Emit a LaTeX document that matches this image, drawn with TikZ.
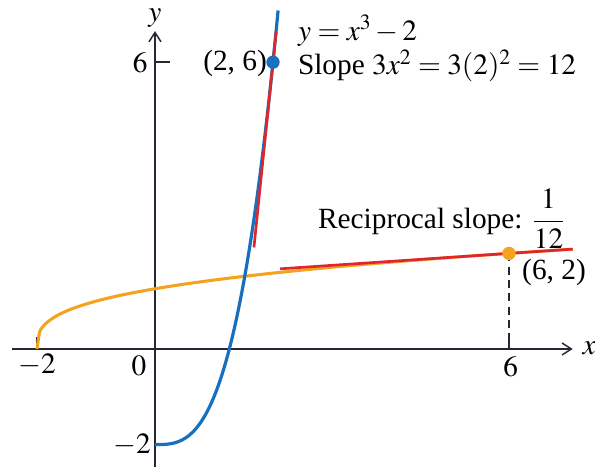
\documentclass[tikz,border=0pt]{standalone}
\usepackage{mathptmx}
\usepackage[no-math]{fontspec}
\setmainfont{Liberation Serif}
\usetikzlibrary{arrows.meta}
\definecolor{cblue}{RGB}{22,112,190}
\definecolor{corange}{RGB}{243,163,32}
\definecolor{cred}{RGB}{222,38,44}
\definecolor{caxis}{RGB}{35,40,50}
\begin{document}
\begin{tikzpicture}[x=44.25pt,y=35.85pt,
  lbl/.style={inner sep=0pt, font=\fontsize{22}{26}\selectfont},
  axisline/.style={draw=caxis, line width=1.1pt, -{Straight Barb[length=7pt,width=9pt]}},
  tickline/.style={draw=caxis, line width=1.1pt},
  curveblue/.style={draw=cblue, line width=2.4pt},
  curveorange/.style={draw=corange, line width=2.3pt},
  tangent/.style={draw=cred, line width=2pt},
  dot/.style={circle, inner sep=0pt, minimum size=10pt}]
\useasboundingbox (-2.627,-2.448) rectangle (7.458,7.301);
% axes
\coordinate (xs) at (-2.42,0);
\coordinate (xe) at (7.08,0);
\coordinate (ys) at (0,-2.46);
\coordinate (ye) at (0,6.65);
\draw[axisline] (xs) -- (xe);
\draw[axisline] (ys) -- (ye);
\node[lbl] (xl) at (7.36,0.02) {$x$};
\node[lbl] (yl) at (0,6.92) {$y$};
% ticks
\coordinate (t6a) at (0,6); \coordinate (t6b) at (0.26,6);
\coordinate (tm2a) at (0,-2); \coordinate (tm2b) at (0.26,-2);
\coordinate (tx2a) at (-2,0); \coordinate (tx2b) at (-2,0.26);
\coordinate (tx6a) at (6,0); \coordinate (tx6b) at (6,0.26);
\draw[tickline] (t6a) -- (t6b);
\draw[tickline] (tm2a) -- (tm2b);
\draw[tickline] (tx2a) -- (tx2b);
\draw[tickline] (tx6a) -- (tx6b);
\node[lbl] (ly6) at (-0.25,5.98) {$6$};
\node[lbl] (lym2) at (-0.39,-2.0) {$-2$};
\node[lbl] (lxm2) at (-2,-0.33) {$-2$};
\node[lbl] (lx0) at (-0.27,-0.35) {$0$};
\node[lbl] (lx6) at (6.03,-0.38) {$6$};
% curves
\draw[curveorange] plot[domain=-2:7.08, samples=200, smooth] ({\x},{sign(\x+2)*abs(\x+2)^(1/3)});
\draw[curveblue] plot[domain=0:2.087, samples=120, smooth] ({\x},{\x*\x*\x-2});
% points
\coordinate (P) at (2,6);
\coordinate (Q) at (6,2);
\coordinate (Qx) at (6,0);
\draw[caxis, line width=1pt, dash pattern=on 6pt off 4pt] (Q) -- (Qx);
% tangents
\coordinate (ta) at (1.677,2.124);
\coordinate (tb) at (2.053,6.636);
\coordinate (tc) at (2.12,1.677);
\coordinate (td) at (7.08,2.09);
\draw[tangent] (ta) -- (tb);
\draw[tangent] (tc) -- (td);
\node[dot, fill=cblue] (dP) at (P) {};
\node[dot, fill=corange] (dQ) at (Q) {};
% labels
\node[lbl, anchor=east] (lP) at (1.90,5.98) {(2, 6)};
\node[lbl, anchor=west] (eq) at (2.42,6.66) {$y = x^3 - 2$};
\node[lbl, anchor=west] (sl) at (2.42,5.92) {Slope $3x^2 = 3(2)^2 = 12$};
\node[lbl, anchor=west] (rs) at (2.76,2.72) {Reciprocal slope: $\displaystyle\frac{1}{12}$};
\node[lbl, anchor=west] (lQ) at (6.22,1.61) {(6, 2)};
\end{tikzpicture}
\end{document}
